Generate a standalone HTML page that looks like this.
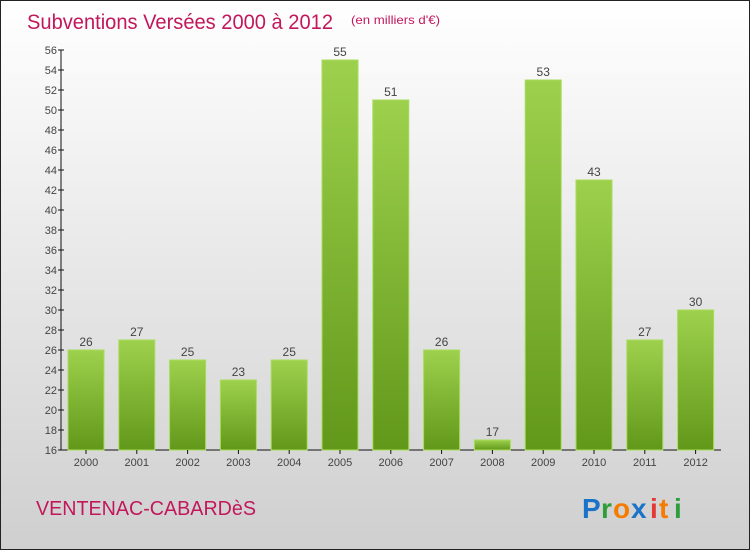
<!DOCTYPE html>
<html><head><meta charset="utf-8"><style>
body{margin:0}
#c{position:relative;width:748px;height:548px;border:1px solid #222;background:linear-gradient(#ffffff,#cfcfcf);font-family:"Liberation Sans",sans-serif;overflow:hidden}
</style></head><body>
<div id="c">
<svg width="748" height="548" viewBox="1 1 748 548" style="position:absolute;left:0;top:0">
<defs><linearGradient id="g" x1="0" y1="0" x2="0" y2="1"><stop offset="0" stop-color="#9dd14d"/><stop offset="1" stop-color="#62981a"/></linearGradient></defs>
<text x="27" y="29" font-size="21" fill="#c2185b" textLength="306" lengthAdjust="spacingAndGlyphs">Subventions Versées 2000 à 2012</text>
<text x="351" y="24" font-size="12" fill="#c2185b" textLength="89" lengthAdjust="spacingAndGlyphs">(en milliers d'€)</text>
<g id="plot"></g>
<text x="36" y="515" font-size="20" fill="#c2185b" textLength="220" lengthAdjust="spacingAndGlyphs">VENTENAC-CABARDèS</text>
<g font-size="28" font-weight="bold" font-family="Liberation Sans,sans-serif">
<text x="582" y="518" fill="#1a73c8">P</text><text x="601" y="518" fill="#2e9e3a">r</text><text x="613" y="518" fill="#f57c00">o</text><text x="631" y="518" fill="#1a73c8">x</text><text x="650" y="518" fill="#e53935">i</text><text x="659" y="518" fill="#f57c00">t</text><text x="674" y="518" fill="#2e9e3a">i</text>
</g>
</svg>
</div>
<script>
const years=["2000","2001","2002","2003","2004","2005","2006","2007","2008","2009","2010","2011","2012"];
const values=[26,27,25,23,25,55,51,26,17,53,43,27,30];
const yTicks=[16,18,20,22,24,26,28,30,32,34,36,38,40,42,44,46,48,50,52,54,56];
(function(){
const NS="http://www.w3.org/2000/svg";
const g=document.getElementById('plot');
const y0=16,y1=56,pTop=50,pBot=450,x0=86,step=50.8,bw=36;
const ys=v=>pBot-(v-y0)/(y1-y0)*(pBot-pTop);
const xs=i=>x0+i*step;
function mk(t,a){const e=document.createElementNS(NS,t);for(const k in a)e.setAttribute(k,a[k]);g.appendChild(e);return e;}
let ax=mk('line',{x1:61,y1:pTop,x2:61,y2:pBot,stroke:'#111'});


let bx=mk('line',{x1:61,y1:pBot,x2:721,y2:pBot,stroke:'#111'});


yTicks.forEach(v=>{const y=ys(v);
let tk=mk('line',{x1:58,y1:y,x2:64,y2:y,stroke:'#111'});


let t=mk('text',{x:57,y:y+4,'font-size':11,fill:'#444','text-anchor':'end'});t.textContent=v;

});
values.forEach((v,i)=>{const cx=xs(i),y=ys(v);
let r=mk('rect',{x:cx-bw/2,y:y,width:bw,height:pBot-y,fill:'url(#g)',stroke:'#a8dc5c','stroke-width':1});


let l=mk('text',{x:cx,y:y-4,'font-size':12,fill:'#444','text-anchor':'middle'});l.textContent=v;


let tk=mk('line',{x1:cx,y1:pBot,x2:cx,y2:pBot+4,stroke:'#111'});


let xl=mk('text',{x:cx,y:pBot+16,'font-size':11,fill:'#444','text-anchor':'middle'});xl.textContent=years[i];

});
})();
</script>
</body></html>
